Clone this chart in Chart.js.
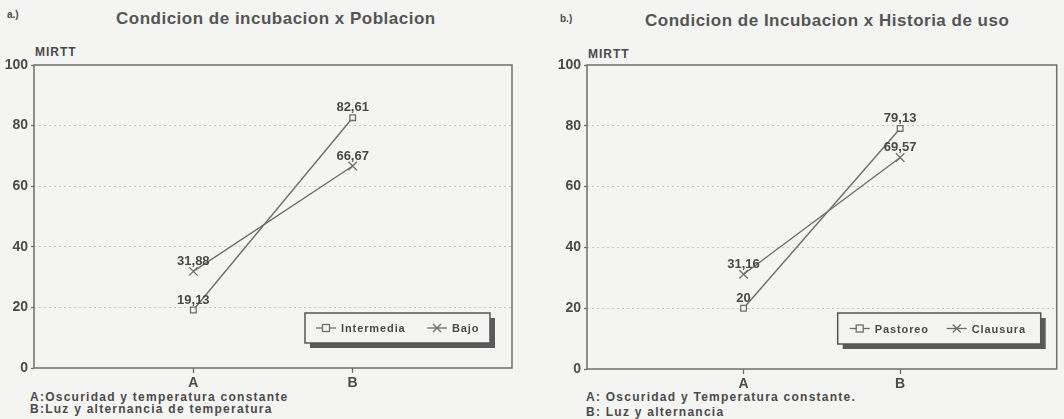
<!DOCTYPE html>
<html>
<head>
<meta charset="utf-8">
<script src="https://cdn.jsdelivr.net/npm/chart.js@4.4.0/dist/chart.umd.min.js"></script>
<style>
  body { margin: 0; background: #f4f4f2; width: 1064px; height: 419px; overflow: hidden; position: relative;
         font-family: "Liberation Sans", Arial, sans-serif; font-weight: bold; color: #4a4a4a; }
  .panel { position: absolute; top: 0; height: 419px; }
  .panel canvas { position: absolute; left: 0; top: 0; }
  .txt { position: absolute; white-space: nowrap; line-height: 1; }
  .title { font-size: 17px; letter-spacing: 0.5px; color: #555; }
  .note { font-size: 12px; letter-spacing: 1.25px; }
  .unit { font-size: 12px; letter-spacing: 1px; }
</style>
</head>
<body>
  <div class="txt" style="left:7px;top:10px;font-size:10px">a.)</div>
  <div class="txt title" style="left:116px;top:10px">Condicion de incubacion x Poblacion</div>
  <div class="txt unit" style="left:35px;top:46px">MIRTT</div>
  <div class="txt note" style="left:30px;top:391px">A:Oscuridad y temperatura constante</div>
  <div class="txt note" style="left:30px;top:403px">B:Luz y alternancia de temperatura</div>

  <div class="txt" style="left:560px;top:14px;font-size:10px">b.)</div>
  <div class="txt title" style="left:645px;top:12px">Condicion de Incubacion x Historia de uso</div>
  <div class="txt unit" style="left:588px;top:48px">MIRTT</div>
  <div class="txt note" style="left:586px;top:391px">A: Oscuridad y Temperatura constante.</div>
  <div class="txt note" style="left:586px;top:406px">B: Luz y alternancia</div>

  <div class="panel" style="left:0;width:530px"><canvas id="chartA" width="530" height="419"></canvas></div>
  <div class="panel" style="left:530px;width:534px"><canvas id="chartB" width="534" height="419"></canvas></div>

<script>
// datos
const condiciones = ['A', 'B'];
const intermedia = [19.13, 82.61];
const bajo = [31.88, 66.67];
const pastoreo = [20, 79.13];
const clausura = [31.16, 69.57];
const yTicks = [0, 20, 40, 60, 80, 100];

const PAPER = '#f4f4f2';
const INK = '#4a4a4a';
const LINE = '#6e6e6e';
const FONT = '"Liberation Sans", Arial, sans-serif';

// formato con coma decimal
const fmt = (v) => String(v).replace('.', ',');

// marco completo del area de trazado
const framePlugin = {
  id: 'frame',
  beforeDatasetsDraw(chart) {
    const { ctx, chartArea: a } = chart;
    ctx.save();
    ctx.strokeStyle = LINE;
    ctx.lineWidth = 1.5;
    ctx.strokeRect(a.left, a.top, a.right - a.left, a.bottom - a.top);
    ctx.restore();
  }
};

// etiquetas de valores sobre los puntos
const valueLabels = {
  id: 'valueLabels',
  afterDatasetsDraw(chart) {
    const { ctx } = chart;
    ctx.save();
    ctx.font = 'bold 13px ' + FONT;
    ctx.fillStyle = INK;
    ctx.textAlign = 'center';
    ctx.textBaseline = 'middle';
    chart.data.datasets.forEach((ds, i) => {
      chart.getDatasetMeta(i).data.forEach((pt, j) => {
        ctx.fillText(fmt(ds.data[j].y), pt.x, pt.y - 10);
      });
    });
    ctx.restore();
  }
};

const drawSymbol = (ctx, style, cx, cy) => {
  ctx.beginPath();
  if (style === 'rect') {
    ctx.fillStyle = PAPER;
    ctx.fillRect(cx - 3.5, cy - 3.5, 7, 7);
    ctx.strokeRect(cx - 3.5, cy - 3.5, 7, 7);
  } else {
    ctx.moveTo(cx - 4, cy - 4); ctx.lineTo(cx + 4, cy + 4);
    ctx.moveTo(cx - 4, cy + 4); ctx.lineTo(cx + 4, cy - 4);
    ctx.stroke();
  }
};

// leyenda en caja con sombra
const boxLegend = {
  id: 'boxLegend',
  afterDraw(chart, args, opts) {
    const { ctx, chartArea: a } = chart;
    const left = a.right - opts.fromRight;
    const top = opts.top, w = opts.width, h = opts.height;
    ctx.save();
    ctx.fillStyle = '#5a5a5a';
    ctx.fillRect(left + 5, top + 5, w, h);
    ctx.fillStyle = PAPER;
    ctx.fillRect(left, top, w, h);
    ctx.strokeStyle = '#555';
    ctx.lineWidth = 1.5;
    ctx.strokeRect(left, top, w, h);

    ctx.font = 'bold 11px ' + FONT;
    ctx.letterSpacing = '0.9px';
    ctx.textBaseline = 'middle';
    const cy = top + h / 2;
    chart.data.datasets.forEach((ds, i) => {
      const x = left + opts.offsets[i];
      ctx.strokeStyle = LINE;
      ctx.lineWidth = 1.3;
      ctx.beginPath();
      ctx.moveTo(x, cy); ctx.lineTo(x + 20, cy);
      ctx.stroke();
      drawSymbol(ctx, ds.pointStyle, x + 10, cy);
      ctx.fillStyle = INK;
      ctx.fillText(ds.label, x + 25, cy + 1);
    });
    ctx.restore();
  }
};

const makeChart = (id, series, names, padding, legendOpts) => {
  const styles = ['rect', 'crossRot'];
  return new Chart(document.getElementById(id).getContext('2d'), {
    type: 'line',
    data: {
      datasets: series.map((vals, i) => ({
        label: names[i],
        data: vals.map((v, j) => ({ x: j + 1, y: v })),
        borderColor: LINE,
        borderWidth: 1.4,
        backgroundColor: PAPER,
        pointStyle: styles[i],
        pointRadius: i === 0 ? 4 : 6,
        pointBorderColor: LINE,
        pointBorderWidth: 1.3,
        pointBackgroundColor: PAPER,
        tension: 0
      }))
    },
    options: {
      responsive: false,
      animation: false,
      devicePixelRatio: 1,
      layout: { padding },
      plugins: {
        legend: { display: false },
        tooltip: { enabled: false },
        boxLegend: legendOpts
      },
      scales: {
        x: {
          type: 'linear', min: 0, max: condiciones.length + 1,
          afterFit: (s) => { s.height = 20; },
          afterBuildTicks: (s) => { s.ticks = condiciones.map((c, i) => ({ value: i + 1 })); },
          ticks: {
            callback: (v) => condiciones[v - 1] || '',
            font: { family: FONT, weight: 'bold', size: 14 },
            color: INK, padding: 2, maxRotation: 0
          },
          grid: { drawOnChartArea: false, tickLength: 5, tickColor: LINE, tickWidth: 1.3 },
          border: { display: false }
        },
        y: {
          min: 0, max: 100,
          afterFit: (s) => { s.width = 34; },
          afterBuildTicks: (s) => { s.ticks = yTicks.map((v) => ({ value: v })); },
          ticks: {
            font: { family: FONT, weight: 'bold', size: 14 },
            color: INK, padding: 3
          },
          grid: {
            color: (c) => (c.tick && c.tick.value > 0 && c.tick.value < 100) ? '#c6c6c6' : 'rgba(0,0,0,0)',
            lineWidth: 1, tickLength: 3, tickColor: LINE, tickWidth: 1.3
          },
          border: { display: false, dash: [2, 3] }
        }
      }
    },
    plugins: [framePlugin, valueLabels, boxLegend]
  });
};

makeChart('chartA', [intermedia, bajo], ['Intermedia', 'Bajo'],
  { left: 0, right: 18, top: 65, bottom: 31 },
  { fromRight: 207, top: 313, width: 185, height: 30, offsets: [11, 122] });

makeChart('chartB', [pastoreo, clausura], ['Pastoreo', 'Clausura'],
  { left: 23, right: 6, top: 65, bottom: 30 },
  { fromRight: 219, top: 313, width: 203, height: 31, offsets: [12, 109] });
</script>
</body>
</html>
